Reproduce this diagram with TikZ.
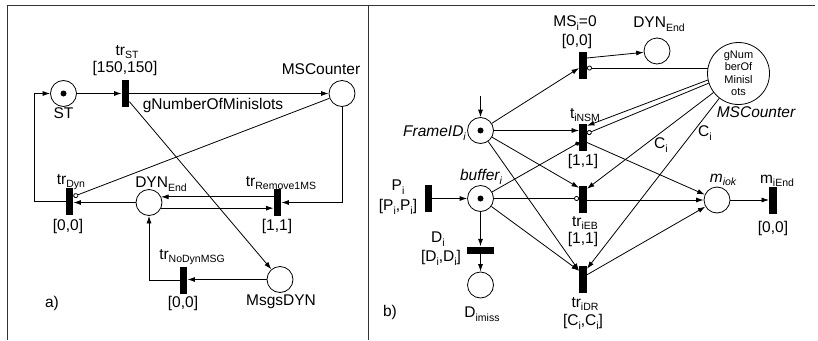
\documentclass[tikz,border=0pt]{standalone}
\usepackage{fontspec}
\setmainfont{Liberation Sans}
\usetikzlibrary{arrows.meta,calc}
\newcommand{\lsub}[1]{\raisebox{-0.45ex}{\fontsize{10.5}{10.5}\selectfont #1}}
\begin{document}
\begin{tikzpicture}[x=1pt,y=-1pt,
  every node/.style={font=\fontsize{15.5}{17}\selectfont},
  place/.style={draw, circle, minimum size=26pt, inner sep=0pt, line width=0.8pt},
  bigplace/.style={draw, circle, minimum size=62pt, inner sep=0pt, line width=0.8pt, align=center, font=\fontsize{11}{12.5}\selectfont},
  bar/.style={fill=black, minimum width=7.5pt, minimum height=27pt, inner sep=0pt},
  hbar/.style={fill=black, minimum width=27pt, minimum height=7pt, inner sep=0pt},
  lbl/.style={inner sep=0pt},
  ilbl/.style={inner sep=0pt, font=\fontsize{15.5}{17}\selectfont\itshape},
  arc/.style={line width=0.8pt, -{Latex[length=7.5pt,width=5pt]}},
  inh/.style={line width=0.8pt, -{Circle[open,length=5pt,width=5pt]}},
  dotarc/.style={line width=0.8pt, -{Circle[length=4.5pt,width=4.5pt]}},
  frame/.style={line width=0.8pt, black!80}]
\useasboundingbox (0,0) rectangle (818,340);
% frame
\draw[frame] (7,340) -- (7,5) -- (815,5);
\draw[frame] (368,5) -- (368,340);

% ---------------- panel a
\node[place] (ST) at (63.5,93.5) {};
\fill (ST) circle (3pt);
\node[bar] (trST) at (125.5,93) {};
\node[place] (MSC) at (342,93.5) {};
\node[bar] (trDyn) at (69.5,201.5) {};
\node[place] (DYNa) at (149,202.5) {};
\node[bar] (trRem) at (277.5,202.5) {};
\node[bar] (trNo) at (183.5,280) {};
\node[place] (Msgs) at (280,279.5) {};

\node[lbl] (lST) at (63.5,113) {ST};
\node[lbl] (ltrST) at (127,52) {tr\lsub{ST}};
\node[lbl] (ltrSTi) at (125,68) {[150,150]};
\node[lbl] (lMSC) at (321,69) {MSCounter};
\node[lbl] (lgN) at (213,105) {gNumberOfMinislots};
\node[lbl] (ltrDyn) at (71,182) {tr\lsub{Dyn}};
\node[lbl] (ltrDyni) at (68,226) {[0,0]};
\node[lbl] (lDYNa) at (161,184) {DYN\lsub{End}};
\node[lbl] (ltrRem) at (281,183) {tr\lsub{Remove1MS}};
\node[lbl] (ltrRemi) at (277,226) {[1,1]};
\node[lbl] (ltrNo) at (192,257) {tr\lsub{NoDynMSG}};
\node[lbl] (ltrNoi) at (183,303) {[0,0]};
\node[lbl] (lMsgs) at (281,302) {MsgsDYN};
\node[lbl] (la) at (52,303) {a)};

\draw[arc] (ST.east) -- (ST.east -| trST.west);
\draw[arc] (trST.east |- MSC.west) -- (MSC.west);
\draw[arc] ([yshift=5pt]trST.south east) -- (Msgs);
\draw[inh] (MSC) -- ([yshift=5pt]trDyn.east);
\draw[arc] (DYNa.west) -- (DYNa.west -| trDyn.east);
\draw[arc] (trDyn.west) -- ++(-31,0) |- (ST.west);
\draw[arc] (trRem.west |- DYNa.25) -- (DYNa.25);
\draw[arc] (DYNa.-25) -- (DYNa.-25 -| trRem.west);
\draw[arc] (MSC.south) -- (MSC.south |- trRem.east) -- (trRem.east);
\draw[arc] (Msgs.west) -- (Msgs.west -| trNo.east);
\draw[arc] (trNo.west) -| (DYNa.south);

% ---------------- panel b
\node[place] (F) at (480.5,130.5) {};
\fill (F) circle (3pt);
\node[place] (B) at (480.5,198.5) {};
\fill (B) circle (3pt);
\node[bar] (P) at (428.5,198.5) {};
\node[hbar] (D) at (480.5,250) {};
\node[place] (Dm) at (480.5,285) {};
\node[bar] (MS0) at (583,65) {};
\node[place] (DYNb) at (657,51) {};
\node[bigplace] (MSCb) at (738.5,73.5) {gNum\\berOf\\Minisl\\ots};
\node[bar] (tNSM) at (583,137.5) {};
\node[bar] (tEB) at (583,199.5) {};
\node[bar] (tDR) at (583,279.5) {};
\node[place] (miok) at (717,200) {};
\node[bar] (miEnd) at (773,200) {};
\coordinate (Fin) at (480.5,96);

\node[lbl] (lMS0) at (575,23) {MS\lsub{i}=0};
\node[lbl] (lMS0i) at (577,41) {[0,0]};
\node[lbl] (lDYNb) at (659,24) {DYN\lsub{End}};
\node[ilbl] (lMSCb) at (756,112) {MSCounter};
\node[ilbl, anchor=east] (lF) at (466,133) {FrameID\lsub{i}};
\node[ilbl] (lB) at (481,177) {buffer\lsub{i}};
\node[lbl] (lP) at (398,187) {P\lsub{i}};
\node[lbl] (lPi) at (398,207) {[P\lsub{i},P\lsub{i}]};
\node[lbl] (lD) at (438,239) {D\lsub{i}};
\node[lbl] (lDi) at (441,258) {[D\lsub{i},D\lsub{i}]};
\node[lbl] (lDm) at (482,314) {D\lsub{imiss}};
\node[lbl] (ltNSM) at (585,115) {t\lsub{iNSM}};
\node[lbl] (ltNSMi) at (583,161) {[1,1]};
\node[lbl] (ltEB) at (585,223) {tr\lsub{iEB}};
\node[lbl] (ltEBi) at (583,239) {[1,1]};
\node[lbl] (ltDR) at (585,304) {tr\lsub{iDR}};
\node[lbl] (ltDRi) at (583,322) {[C\lsub{i},C\lsub{i}]};
\node[ilbl] (lmiok) at (723,180) {m\lsub{iok}};
\node[lbl] (lmiEnd) at (777,181) {m\lsub{iEnd}};
\node[lbl] (lmiEndi) at (773,228) {[0,0]};
\node[lbl] (lC1) at (661,145) {C\lsub{i}};
\node[lbl] (lC2) at (705,133) {C\lsub{i}};
\node[lbl] (lb) at (390,312) {b)};

\draw[arc] (Fin) -- (F.north);
\draw[arc] (F) -- ([yshift=-3pt]MS0.west);
\draw[arc] ([yshift=7pt]MS0.east) -- (DYNb);
\draw[inh] (MSCb.170) -- (MSCb.170 -| MS0.east);
\draw[arc] (F.east) -- (F.east -| tNSM.west);
\draw[arc] (MSCb.192) -- ([yshift=-2pt]tNSM.north east);
\draw[inh] (MSCb.198) -- ([yshift=4pt]tNSM.east);
\draw[dotarc] (B) -- ([yshift=-5pt]tNSM.west);
\draw[arc] ([yshift=-5pt]tNSM.east) -- (miok);
\draw[arc] (F) -- ([yshift=-2pt]tEB.north west);
\draw[arc] (F) -- ([yshift=-5pt]tDR.north west);
\draw[arc] (B) -- ([yshift=-5pt]tDR.north west);
\draw[inh] (B.east) -- (B.east -| tEB.west);
\draw[arc] (P.east |- B.west) -- (B.west);
\draw[arc] (B.south) -- (D.north);
\draw[arc] (D.south) -- (Dm.north);
\draw[arc] (tEB.east |- miok.west) -- (miok.west);
\draw[arc] ([yshift=-9pt]tDR.north east) -- (miok);
\draw[arc] (miok.east) -- (miok.east -| miEnd.west);
\draw[arc] (MSCb) -- ([yshift=-3pt]tEB.north east);
\draw[arc] (MSCb) -- ([yshift=-3pt]tDR.north east);
\end{tikzpicture}
\end{document}
